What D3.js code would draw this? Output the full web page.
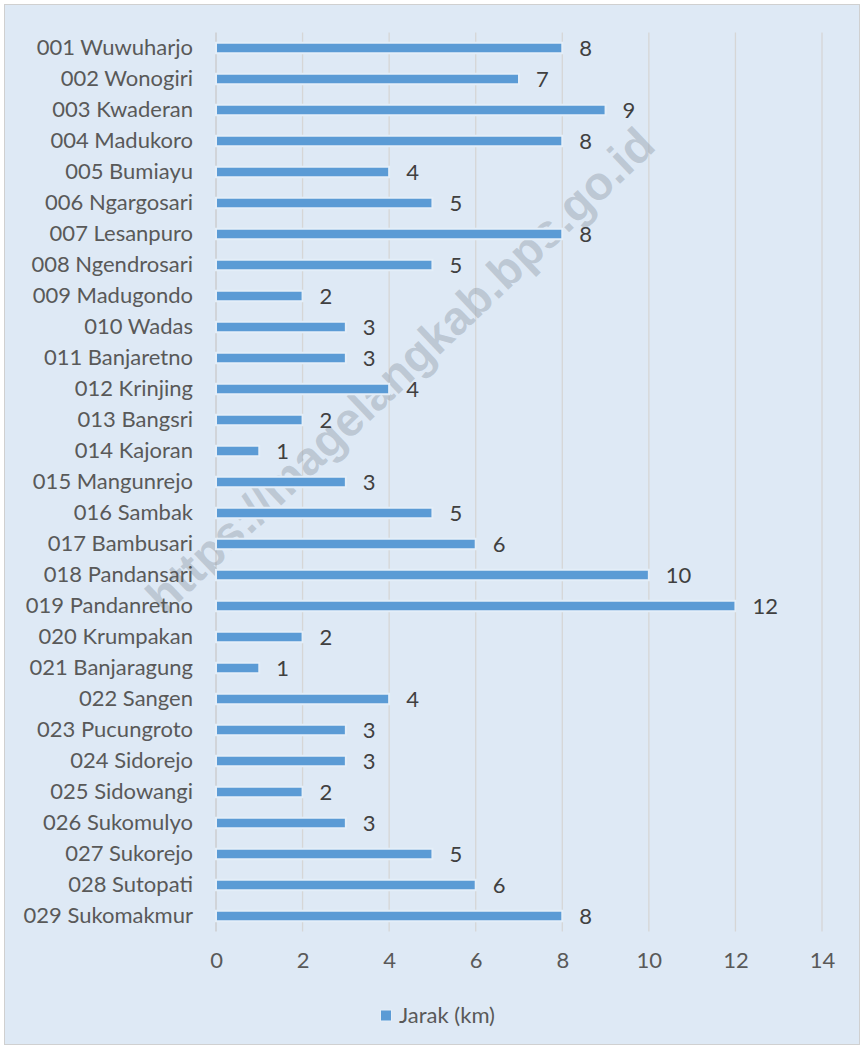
<!DOCTYPE html>
<html>
<head>
<meta charset="utf-8">
<script src="https://cdn.jsdelivr.net/npm/d3@7"></script>
<style>
  html, body { margin: 0; padding: 0; background: #fff; }
  svg { display: block; font-family: Lato, "Open Sans", sans-serif; }
</style>
</head>
<body>
<div id="chart"></div>
<script>
// desa / kelurahan
var categories = ["001 Wuwuharjo", "002 Wonogiri", "003 Kwaderan", "004 Madukoro", "005 Bumiayu",
  "006 Ngargosari", "007 Lesanpuro", "008 Ngendrosari", "009 Madugondo", "010 Wadas",
  "011 Banjaretno", "012 Krinjing", "013 Bangsri", "014 Kajoran", "015 Mangunrejo",
  "016 Sambak", "017 Bambusari", "018 Pandansari", "019 Pandanretno", "020 Krumpakan",
  "021 Banjaragung", "022 Sangen", "023 Pucungroto", "024 Sidorejo", "025 Sidowangi",
  "026 Sukomulyo", "027 Sukorejo", "028 Sutopati", "029 Sukomakmur"];
var jarak = [8, 7, 9, 8, 4, 5, 8, 5, 2, 3, 3, 4, 2, 1, 3, 5, 6, 10, 12, 2, 1, 4, 3, 3, 2, 3, 5, 6, 8];
var xTicks = [0, 2, 4, 6, 8, 10, 12, 14];
var seriesName = "Jarak (km)";

var W = 864, H = 1049;
// plot area (don't call these top/left, window.top is read-only)
var plotL = 216, plotR = 822, plotT = 32.5, plotB = 931.5;
var fs = 22;

var svg = d3.select("#chart").append("svg")
  .attr("width", W).attr("height", H);

// background + border
svg.append("rect")
  .attr("x", 4.5).attr("y", 4.5)
  .attr("width", W - 9).attr("height", H - 9)
  .attr("fill", "#dee9f5")
  .attr("stroke", "#d0d0d0").attr("stroke-width", 1);

var x = d3.scaleLinear().domain([0, 14]).range([plotL, plotR]);
var y = d3.scaleBand().domain(categories).range([plotT, plotB]);

// gridlines
svg.append("g").selectAll("line")
  .data(xTicks)
  .enter().append("line")
  .attr("x1", d => x(d)).attr("x2", d => x(d))
  .attr("y1", plotT).attr("y2", plotB)
  .attr("stroke", d => d === 0 ? "#cacaca" : "#d6d6d6")
  .attr("stroke-width", 1.3);

// watermark - behind bars and labels
svg.append("text")
  .attr("transform", "translate(400,370) rotate(-43.5)")
  .attr("text-anchor", "middle")
  .attr("dominant-baseline", "central")
  .attr("font-family", "Liberation Sans, Arial, sans-serif")
  .attr("font-weight", "bold")
  .attr("font-size", 47)
  .attr("fill", "#8e99a6")
  .attr("fill-opacity", 0.42)
  .text("https://magelangkab.bps.go.id");

// bars
var barH = 10.5;
svg.append("g").selectAll("rect")
  .data(jarak)
  .enter().append("rect")
  .attr("x", x(0))
  .attr("y", (d, i) => y(categories[i]) + y.bandwidth() / 2 - barH / 2)
  .attr("width", d => x(d) - x(0))
  .attr("height", barH)
  .attr("fill", "#5b9bd5")
  .attr("stroke", "#e4eef8")
  .attr("stroke-width", 2);

// value labels
svg.append("g").selectAll("text")
  .data(jarak)
  .enter().append("text")
  .attr("x", d => x(d) + 17)
  .attr("y", (d, i) => y(categories[i]) + y.bandwidth() / 2 + 2)
  .attr("dominant-baseline", "middle")
  .attr("font-size", fs)
  .attr("fill", "#404040")
  .text(d => d);

// category labels
var yAxis = svg.append("g")
  .attr("transform", "translate(" + plotL + ",0)")
  .call(d3.axisLeft(y).tickSize(0).tickPadding(23));
yAxis.select(".domain").remove();
yAxis.selectAll("text")
  .attr("font-size", fs)
  .attr("font-family", "Lato, \"Open Sans\", sans-serif")
  .attr("fill", "#595959");

// x tick labels
var xAxis = svg.append("g")
  .attr("transform", "translate(0," + plotB + ")")
  .call(d3.axisBottom(x).tickValues(xTicks).tickSize(0).tickPadding(21));
xAxis.select(".domain").remove();
xAxis.selectAll("text")
  .attr("font-size", fs)
  .attr("font-family", "Lato, \"Open Sans\", sans-serif")
  .attr("fill", "#595959");

// legend
var lg = svg.append("g").attr("transform", "translate(380,1016)");
lg.append("rect")
  .attr("x", 0.5).attr("y", -6)
  .attr("width", 11).attr("height", 11)
  .attr("fill", "#5b9bd5")
  .attr("stroke", "#e4eef8");
lg.append("text")
  .attr("x", 19).attr("y", 1)
  .attr("dominant-baseline", "middle")
  .attr("font-size", fs)
  .attr("fill", "#595959")
  .text(seriesName);
</script>
</body>
</html>
